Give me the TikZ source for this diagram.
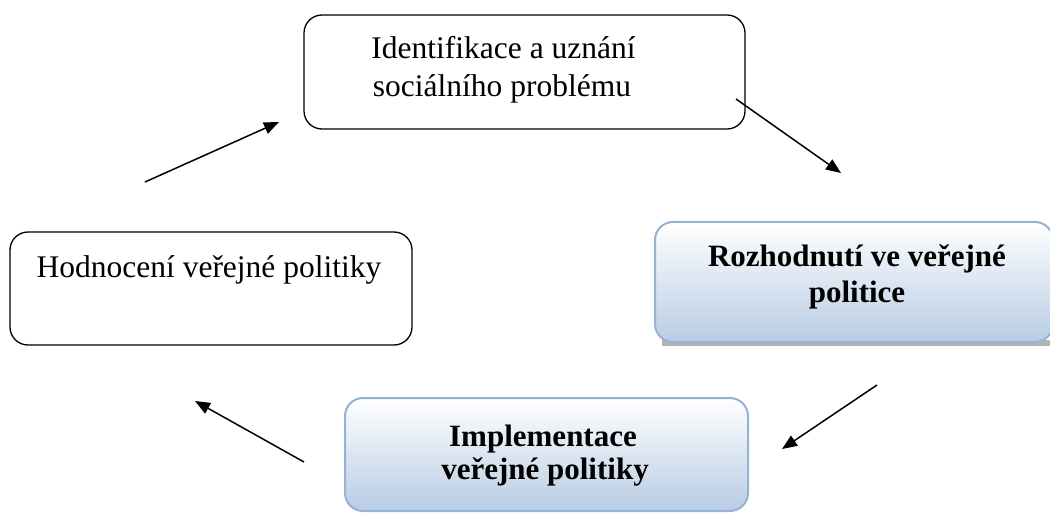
\documentclass[tikz,border=0pt]{standalone}
\usepackage{fontspec}
\setmainfont{Liberation Serif}
\usetikzlibrary{arrows.meta}
\definecolor{boxblue}{HTML}{95B3D7}
\definecolor{fillblue}{HTML}{B8CCE4}
\tikzset{
  plainbox/.style={draw=black, line width=1.3pt, rounded corners=18pt, fill=white},
  bluebox/.style={draw=boxblue, line width=2pt, rounded corners=18pt,
     top color=white, bottom color=fillblue},
  txt/.style={anchor=base, inner sep=0pt, font=\fontsize{31.5}{38}\selectfont},
  btxt/.style={anchor=base, inner sep=0pt, font=\fontsize{31}{36}\selectfont\bfseries},
  flow/.style={line width=1.5pt, -{Triangle[length=15pt,width=12pt]}},
}
\begin{document}
\begin{tikzpicture}[x=1pt,y=-1pt]
\useasboundingbox (0,0) rectangle (1050,513);
% boxes
\draw[plainbox] (304,15) rectangle (745,129);
\node[txt] (top1) at (503.5,59) {Identifikace a uznání};
\node[txt] (top2) at (502,97) {sociálního problému};
\draw[plainbox] (10,232) rectangle (412,345);
\node[txt] (left) at (209,277) {Hodnocení veřejné politiky};
\fill[gray!60] (662,340) rectangle (1052,346);
\draw[bluebox] (655,222) rectangle (1053,342);
\node[btxt] (right1) at (857,267) {Rozhodnutí ve veřejné};
\node[btxt] (right2) at (857,302) {politice};
\draw[bluebox] (345,398) rectangle (748,511);
\node[btxt] (bottom1) at (543,446) {Implementace};
\node[btxt] (bottom2) at (545,479) {veřejné politiky};
% arrow end points
\coordinate (a1s) at (145,182); \coordinate (a1e) at (279,122);
\coordinate (a2s) at (736,99);  \coordinate (a2e) at (841,173);
\coordinate (a3s) at (877,385); \coordinate (a3e) at (782,449);
\coordinate (a4s) at (304,462); \coordinate (a4e) at (195,401);
\draw[flow] (a1s) -- (a1e);
\draw[flow] (a2s) -- (a2e);
\draw[flow] (a3s) -- (a3e);
\draw[flow] (a4s) -- (a4e);
\end{tikzpicture}
\end{document}
